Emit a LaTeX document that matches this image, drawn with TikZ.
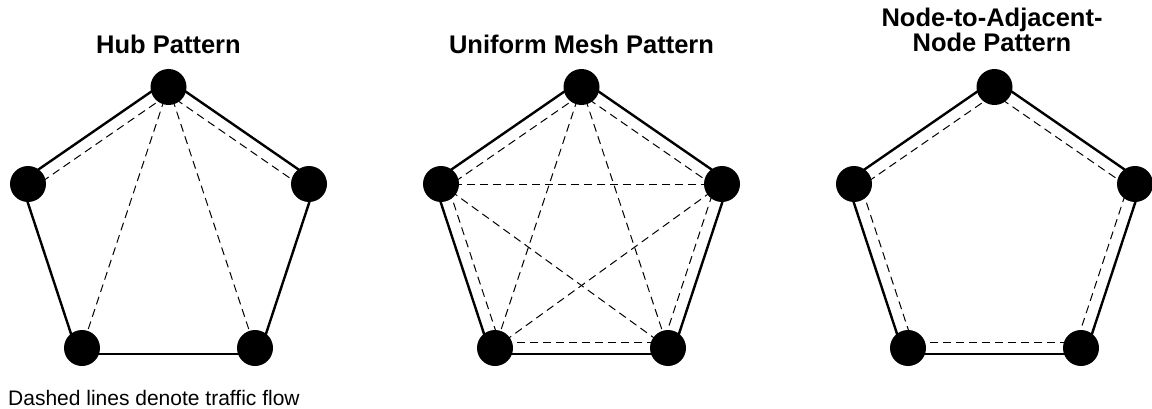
\documentclass[tikz,border=0pt]{standalone}
\usepackage{fontspec}
\setmainfont{Liberation Sans}
\usetikzlibrary{calc, backgrounds}

\tikzset{
	station/.style={circle, fill=black, minimum size=36pt, inner sep=0pt},
	link/.style={line width=2.4pt},
	flow/.style={line width=1pt, dash pattern=on 8pt off 5pt},
	title/.style={font=\bfseries\fontsize{25.5}{25}\selectfont, align=center, inner sep=0pt, anchor=base}
}

\begin{document}
\begin{tikzpicture}[x=1pt, y=1pt]
			\useasboundingbox (0,0) rectangle (1152,408);
			
			\foreach \pat/\cx in {hub/168.5, mesh/581.5, adj/994.5}{
				\node[station] (\pat1) at (\cx,321) {};
				\node[station] (\pat2) at (\cx+140.5,224) {};
				\node[station] (\pat3) at (\cx+86.5,60) {};
				\node[station] (\pat4) at (\cx-86.5,60) {};
				\node[station] (\pat5) at (\cx-140.5,224) {};
			}
			
			\begin{scope}[on background layer]
				% outer ring
				\foreach \pat in {hub,mesh,adj}
				\foreach \a/\b in {1/2,2/3,3/4,4/5,5/1}
				\draw[link] ($(\pat\a.center)!6pt!90:(\pat\b.center)$) -- ($(\pat\b.center)!6pt!-90:(\pat\a.center)$);
				
				% traffic along the ring
				\foreach \pat/\a/\b in {hub/5/1, hub/1/2,
					mesh/1/2, mesh/2/3, mesh/3/4, mesh/4/5, mesh/5/1,
					adj/1/2, adj/2/3, adj/3/4, adj/4/5, adj/5/1}
				\draw[flow] ($(\pat\a.center)!6pt!-90:(\pat\b.center)$) -- ($(\pat\b.center)!6pt!90:(\pat\a.center)$);
				
				% traffic across
				\foreach \pat/\a/\b in {hub/1/3, hub/1/4,
					mesh/1/3, mesh/1/4, mesh/2/4, mesh/2/5, mesh/3/5}
				\draw[flow] (\pat\a.center) -- (\pat\b.center);
			\end{scope}
			
			\node[title] (hubtitle) at (168.5,354) {Hub Pattern};
			\node[title] (meshtitle) at (581.5,354) {Uniform Mesh Pattern};
			\node[title] (adjtitle) at (992,356) {Node-to-Adjacent-\\Node Pattern};
			
			\node[anchor=base west, inner sep=0pt, font=\fontsize{21}{22}\selectfont] (note) at (8,3) {Dashed lines denote traffic flow};
			
		\end{tikzpicture}
\end{document}
